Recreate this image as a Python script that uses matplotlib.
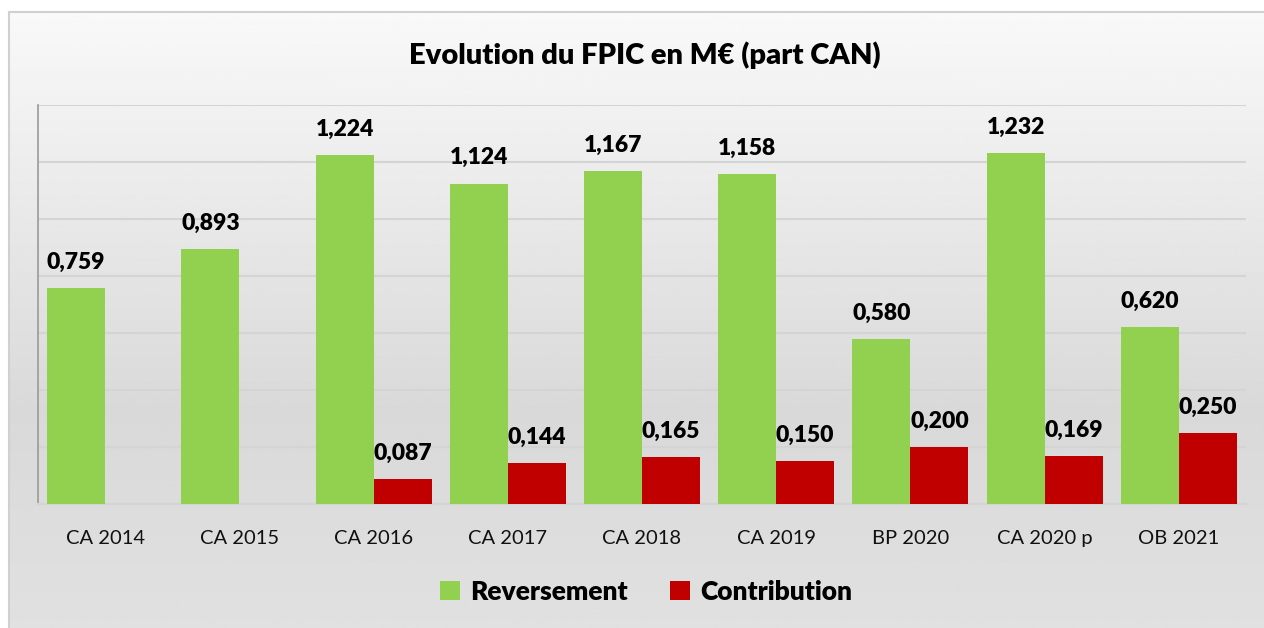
import numpy as np
import matplotlib.pyplot as plt
from matplotlib.patches import Rectangle

categories = ["CA 2014", "CA 2015", "CA 2016", "CA 2017", "CA 2018",
              "CA 2019", "BP 2020", "CA 2020 p", "OB 2021"]
reversement = [0.759, 0.893, 1.224, 1.124, 1.167, 1.158, 0.580, 1.232, 0.620]
contribution = [0.0, 0.0, 0.087, 0.144, 0.165, 0.150, 0.200, 0.169, 0.250]

GREEN = "#92d050"
RED = "#c00000"
FONT = ["Lato", "DejaVu Sans"]

plt.rcParams['font.family'] = FONT

fig = plt.figure(figsize=(12.64, 6.28), dpi=100)
fig.patch.set_facecolor("white")

# gradient chart background (Excel style)
bg = fig.add_axes([9 / 1264, 0, 1 - 9 / 1264, (628 - 12) / 628], zorder=0)
stops_y = np.array([0.0, 0.65, 1.0])
stops_v = np.array([0.975, 0.85, 0.88])
yy = np.linspace(0, 1, 300)
grad = np.interp(yy, stops_y, stops_v)[:, None]
bg.imshow(np.repeat(grad, 2, axis=1), cmap="gray", vmin=0, vmax=1,
          aspect="auto", extent=[0, 1, 1, 0])
bg.set_xlim(0, 1)
bg.set_ylim(1, 0)
bg.axis("off")
fig.patches.append(Rectangle((9 / 1264, -0.1), 1.2, (628 - 12) / 628 + 0.1,
                             transform=fig.transFigure, fill=False,
                             edgecolor="#d0d0d0", linewidth=1.5, zorder=1))

ax = fig.add_axes([38 / 1264, 124 / 628, (1246 - 38) / 1264, (504 - 105) / 628], zorder=2)
ax.patch.set_alpha(0)

x = np.arange(len(categories))
w = 0.432
b1 = ax.bar(x - w / 2, reversement, w, color=GREEN, label="Reversement", zorder=3)
b2 = ax.bar(x + w / 2, contribution, w, color=RED, label="Contribution", zorder=3)


def fmt(v):
    return f"{v:.3f}".replace(".", ",")


for bars, vals in ((b1, reversement), (b2, contribution)):
    for bar, v in zip(bars, vals):
        if v <= 0:
            continue
        ax.annotate(fmt(v), (bar.get_x() + bar.get_width() / 2, v),
                    xytext=(0, 11), textcoords="offset points",
                    ha="center", va="bottom", fontsize=16.5, fontweight="heavy",
                    color="black")

ax.set_xlim(-0.5, len(categories) - 0.5)
ax.set_ylim(0, 1.4)
ax.set_yticks(np.arange(0, 1.41, 0.2))
ax.set_yticklabels([])
ax.tick_params(axis="y", length=0)
ax.tick_params(axis="x", length=0, pad=19, labelsize=14.5, labelcolor="#111111")
ax.set_xticks(x)
ax.set_xticklabels(categories)
ax.grid(axis="y", color="#d4d4d4", linewidth=1.5, zorder=0)
for s in ("top", "right"):
    ax.spines[s].set_visible(False)
ax.spines["left"].set_color("#9a9a9a")
ax.spines["left"].set_linewidth(1.2)
ax.spines["bottom"].set_color("#d4d4d4")
ax.spines["bottom"].set_linewidth(1.5)

fig.text(645 / 1264, 1 - 55 / 628, "Evolution du FPIC en M€ (part CAN)",
         ha="center", va="center", fontsize=21, fontweight="heavy")

leg = ax.legend(loc="center", bbox_to_anchor=(646 / 1264, 1 - 592 / 628),
                bbox_transform=fig.transFigure, ncol=2, frameon=False,
                prop={"weight": "heavy", "size": 19}, handlelength=0.75,
                handleheight=0.75, columnspacing=1.6, handletextpad=0.4)

fig.savefig("out.png", dpi=100)
